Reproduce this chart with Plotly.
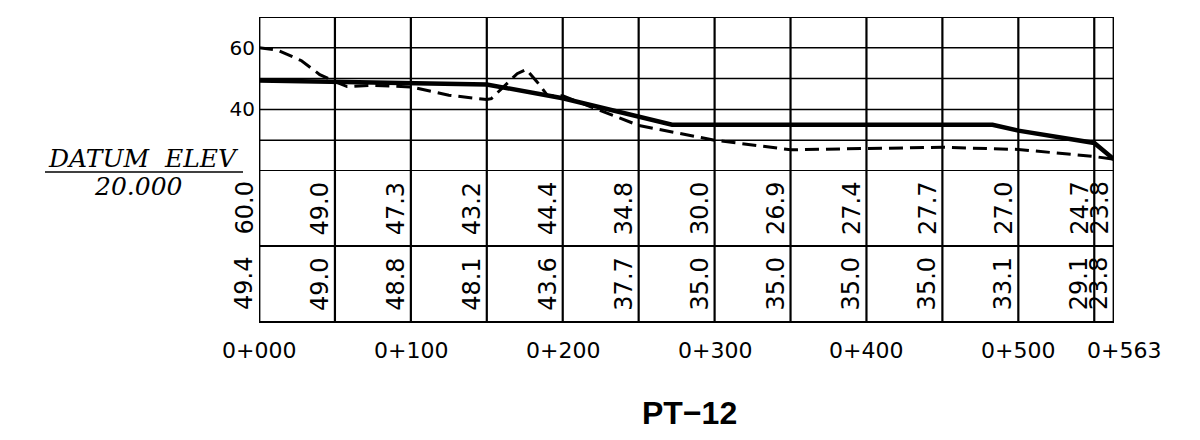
import plotly.graph_objects as go

# ---------------- data ----------------
stations = [0, 50, 100, 150, 200, 250, 300, 350, 400, 450, 500, 550, 563]
ground_elev_table = [60.0, 49.0, 47.3, 43.2, 44.4, 34.8, 30.0, 26.9, 27.4, 27.7, 27.0, 24.7, 23.8]
design_elev_table = [49.4, 49.0, 48.8, 48.1, 43.6, 37.7, 35.0, 35.0, 35.0, 35.0, 33.1, 29.1, 23.8]

ground_profile_sta = [0, 12, 28, 40, 50, 58, 75, 100, 125, 150, 153, 170, 176, 183, 190, 200,
                      250, 300, 350, 400, 450, 500, 550, 563]
ground_profile_elev = [60.0, 59.3, 55.8, 51.3, 49.0, 47.4, 47.8, 47.3, 44.6, 43.2, 43.5, 51.6, 53.0, 49.0, 44.5, 44.4,
                       34.8, 30.0, 26.9, 27.4, 27.7, 27.0, 24.7, 23.8]

design_profile_sta = [0, 50, 100, 150, 200, 250, 272, 300, 350, 400, 450, 483, 500, 540, 550, 563]
design_profile_elev = [49.4, 49.0, 48.8, 48.1, 43.6, 37.7, 35.0, 35.0, 35.0, 35.0, 35.0, 35.0, 33.1, 30.0, 29.1, 23.8]

elev_grid = [20, 30, 40, 50, 60, 70]
elev_ticks = [40, 60]
station_ticks = [0, 100, 200, 300, 400, 500, 563]
station_tick_text = ["0+000", "0+100", "0+200", "0+300", "0+400", "0+500", "0+563"]
datum_label = "DATUM\u00a0\u00a0ELEV"
datum_value = "20.000"
title_text = "PT\u221212"

# ---------------- layout geometry (screen pixels; page body adds 8px offset) ----------------
OFF = 8
W, H = 1200, 440
PX0, PX1, PY0, PY1 = 259, 1114, 17, 322   # plot area on screen
L, T = PX0 - OFF, PY0 - OFF
PW, PH = PX1 - PX0, PY1 - PY0
R, B = W - L - PW, H - T - PH


def px(xs):
    return (xs - PX0) / PW


def py(ys):
    return (PY1 - ys) / PH


profile_bottom = py(171)
row_split = py(246)
row1_center = (profile_bottom + row_split) / 2
row2_center = row_split / 2

fig = go.Figure()
fig.add_trace(go.Scatter(
    x=ground_profile_sta, y=ground_profile_elev, mode="lines",
    line=dict(color="black", width=3, dash="14px,7px"), hoverinfo="skip", showlegend=False))
fig.add_trace(go.Scatter(
    x=design_profile_sta, y=design_profile_elev, mode="lines",
    line=dict(color="black", width=4.5), hoverinfo="skip", showlegend=False))

shapes = []
for e in elev_grid:
    w = 1.8 if e in (20, 70) else 1.5
    shapes.append(dict(type="line", xref="paper", yref="y", x0=0, x1=1, y0=e, y1=e,
                       line=dict(color="black", width=w)))
for s in stations:
    w = 2.8 if s in (stations[0], stations[-1]) else 2.2
    shapes.append(dict(type="line", xref="x", yref="paper", x0=s, x1=s, y0=0, y1=1,
                       line=dict(color="black", width=w)))
for yv, w in ((row_split, 1.8), (0, 2.0)):
    shapes.append(dict(type="line", xref="paper", yref="paper", x0=0, x1=1, y0=yv, y1=yv,
                       line=dict(color="black", width=w)))
# datum underline
shapes.append(dict(type="line", xref="paper", yref="paper", x0=px(45), x1=px(243),
                   y0=py(172), y1=py(172), line=dict(color="black", width=1.5)))

annotations = []
val_font = dict(family="DejaVu Sans", size=24, color="black")
for i, s in enumerate(stations):
    annotations.append(dict(x=s, y=row1_center, xref="x", yref="paper", text=f"{ground_elev_table[i]:.1f}",
                            textangle=-90, showarrow=False, xanchor="center", yanchor="middle",
                            xshift=-15, font=val_font))
    annotations.append(dict(x=s, y=row2_center, xref="x", yref="paper", text=f"{design_elev_table[i]:.1f}",
                            textangle=-90, showarrow=False, xanchor="center", yanchor="middle",
                            xshift=-15, font=val_font))
for s, t in zip(station_ticks, station_tick_text):
    annotations.append(dict(x=s, y=py(350), xref="x", yref="paper", text=t, showarrow=False,
                            xanchor="center", yanchor="middle", xshift=10 if s == station_ticks[-1] else 0,
                            font=dict(family="DejaVu Sans", size=22, color="black")))
annotations.append(dict(x=px(143), y=py(158), xref="paper", yref="paper", text=f"<i>{datum_label}</i>",
                        showarrow=False, xanchor="center", yanchor="middle",
                        font=dict(family="DejaVu Serif", size=25, color="black")))
annotations.append(dict(x=px(138), y=py(186), xref="paper", yref="paper", text=f"<i>{datum_value}</i>",
                        showarrow=False, xanchor="center", yanchor="middle",
                        font=dict(family="DejaVu Serif", size=25, color="black")))
annotations.append(dict(x=px(689), y=py(413), xref="paper", yref="paper", text=f"<b>{title_text}</b>",
                        showarrow=False, xanchor="center", yanchor="middle",
                        font=dict(family="Liberation Sans", size=32, color="black")))

fig.update_layout(
    width=W, height=H,
    margin=dict(l=L, r=R, t=T, b=B, autoexpand=False),
    paper_bgcolor="white", plot_bgcolor="white",
    shapes=shapes, annotations=annotations,
    xaxis=dict(range=[stations[0], stations[-1]], showgrid=False, zeroline=False,
               showticklabels=False, ticks="", showline=False, fixedrange=True),
    yaxis=dict(domain=[profile_bottom, 1], range=[elev_grid[0], elev_grid[-1]], showgrid=False,
               zeroline=False, tickvals=elev_ticks, ticks="", showline=False, ticklabelstandoff=3,
               tickfont=dict(family="DejaVu Sans", size=20, color="black"), fixedrange=True),
    showlegend=False,
)

fig.write_html("out.html")
